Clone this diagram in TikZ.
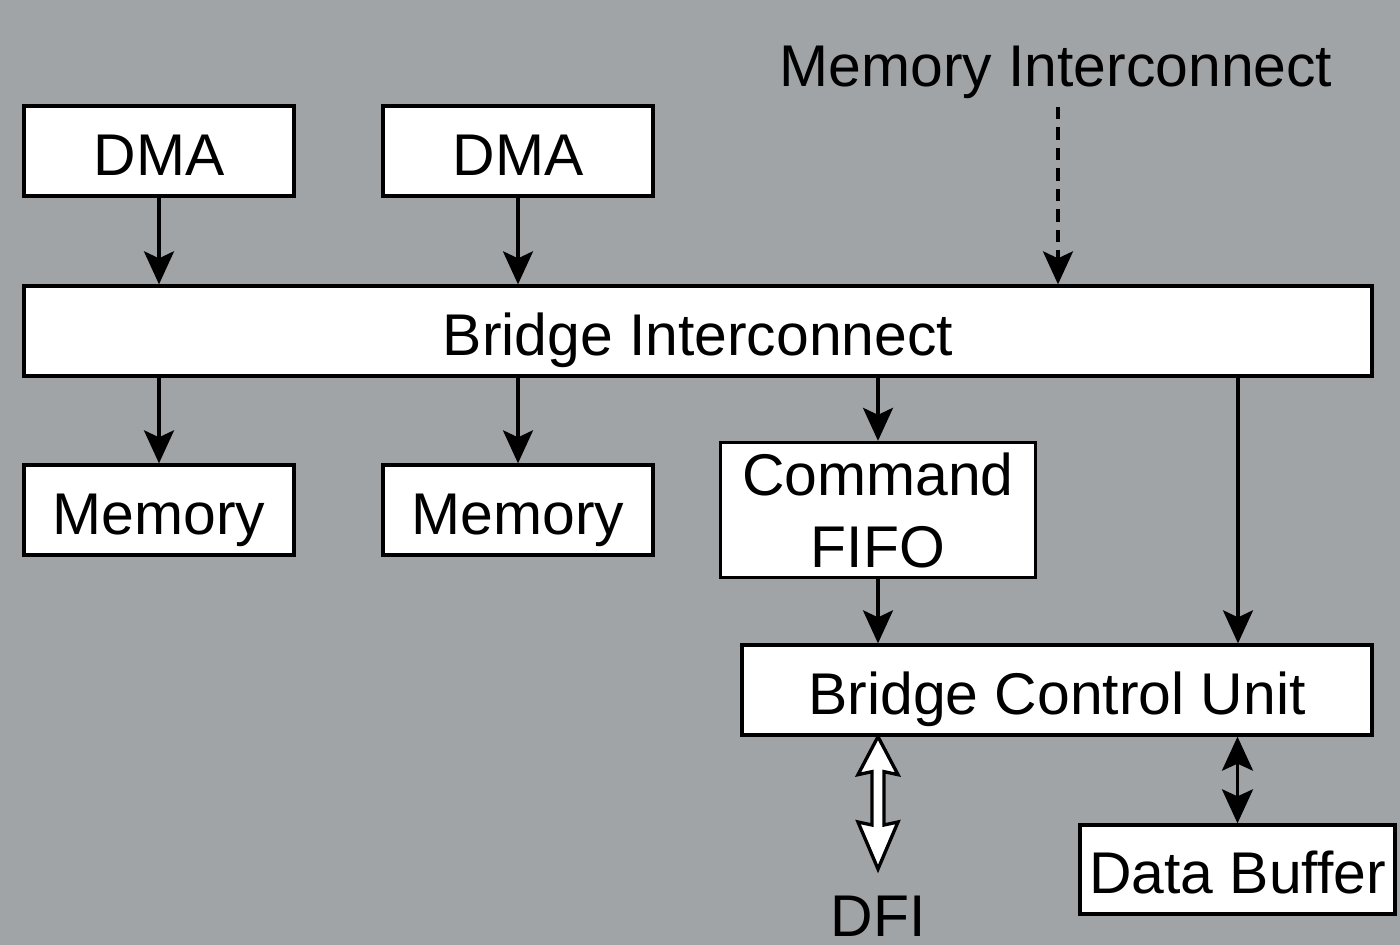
\documentclass[tikz,border=0pt]{standalone}
\usepackage{fontspec}
\setmainfont{Liberation Sans}
\usetikzlibrary{arrows.meta,calc}
\definecolor{bg}{RGB}{161,164,167}
\begin{document}
\begin{tikzpicture}[x=0.02cm,y=-0.02cm,
  box/.style={draw=black, fill=white, line width=1.9pt, inner sep=0pt, font=\fontsize{33.5}{41}\selectfont},
  onel/.style={text height=27.4pt, text depth=0pt},
  arr/.style={-{Stealth[length=0.66cm,width=0.6cm,inset=0.14cm]}, line width=1.9pt},
  darr/.style={{Stealth[length=0.68cm,width=0.62cm,inset=0.14cm]}-{Stealth[length=0.68cm,width=0.62cm,inset=0.14cm]}, line width=1.9pt},
  lbl/.style={inner sep=0pt, font=\fontsize{33.5}{41}\selectfont}]
\fill[bg] (0,0) rectangle (1400,945);
\useasboundingbox (0,0) rectangle (1400,945);

\node[box,onel,minimum width=5.4cm,minimum height=1.8cm] (dma1) at (159,151) {DMA};
\node[box,onel,minimum width=5.4cm,minimum height=1.8cm] (dma2) at (518,151) {DMA};
\node[lbl,onel] (mi) at (1056,62) {Memory Interconnect};
\coordinate (mistart) at (1058,107);
\node[box,onel,minimum width=26.96cm,minimum height=1.8cm] (bi) at (698,331) {Bridge Interconnect};
\node[box,onel,minimum width=5.4cm,minimum height=1.8cm] (mem1) at (159,510) {Memory};
\node[box,onel,minimum width=5.4cm,minimum height=1.8cm] (mem2) at (518,510) {Memory};
\node[box,align=center,minimum width=6.3cm,minimum height=2.7cm] (fifo) at (878,510) {Command\\FIFO};
\node[box,onel,minimum width=12.6cm,minimum height=1.8cm] (bcu) at (1057,690) {Bridge Control Unit};
\node[box,onel,minimum width=6.3cm,minimum height=1.78cm] (db) at (1237.5,869.5) {Data Buffer};
\node[lbl,onel] (dfi) at (878,912) {DFI};

\draw[arr] (dma1.south) -- (dma1.south |- bi.north);
\draw[arr] (dma2.south) -- (dma2.south |- bi.north);
\draw[arr,dash pattern=on 0.25cm off 0.16cm] (mistart) -- (mistart |- bi.north);
\draw[arr] (bi.south -| mem1.north) -- (mem1.north);
\draw[arr] (bi.south -| mem2.north) -- (mem2.north);
\draw[arr] (bi.south -| fifo.north) -- (fifo.north);
\draw[arr] (fifo.south) -- (fifo.south |- bcu.north);
\coordinate (bcux) at (1238,0);
\draw[arr] (bi.south -| bcux) -- (bcu.north -| bcux);
\draw[darr] (bcu.south -| db.north) -- (db.north);

% hollow double arrow to DFI
\coordinate (ht) at (bcu.south -| dfi.north);
\coordinate (hb) at (878,869);
\draw[fill=white, line width=1.9pt, line join=miter]
  (ht) -- ($(ht)+(20,38)$) -- ($(ht)+(6,35)$) -- ($(hb)+(6,-44)$) -- ($(hb)+(20,-47)$) -- (hb)
  -- ($(hb)+(-20,-47)$) -- ($(hb)+(-6,-44)$) -- ($(ht)+(-6,35)$) -- ($(ht)+(-20,38)$) -- cycle;
\end{tikzpicture}
\end{document}
